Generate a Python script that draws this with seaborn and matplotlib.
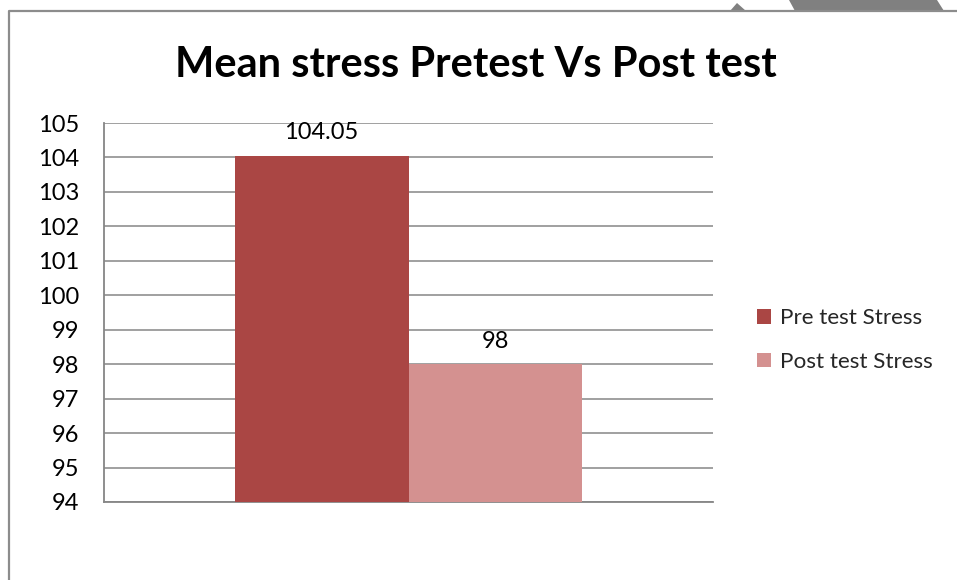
import matplotlib
matplotlib.use("Agg")
import matplotlib.pyplot as plt
import seaborn as sns
import pandas as pd
from matplotlib.lines import Line2D
from matplotlib.patches import Polygon, Patch

# ---- data ----
groups = [""]
series = ["Pre test Stress", "Post test Stress"]
values = [104.05, 98]
yticks = [94, 95, 96, 97, 98, 99, 100, 101, 102, 103, 104, 105]
title = "Mean stress Pretest Vs Post test"

colors = ["#AA4644", "#D49190"]
grid_c = "#868686"

sns.set_theme(style="white")
plt.rcParams["font.family"] = ["Lato", "DejaVu Sans"]

W, H = 957, 580
fig = plt.figure(figsize=(W / 100, H / 100), dpi=100)
fig.patch.set_facecolor("white")

def fx(px):
    return px / W

def fy(py):
    return 1 - py / H

ax = fig.add_axes([fx(104), fy(502), fx(713) - fx(104), fy(123) - fy(502)])

df = pd.DataFrame({"group": groups * len(series), "series": series, "value": values})
sns.barplot(data=df, x="group", y="value", hue="series", hue_order=series,
            palette=colors, width=0.571, ax=ax, legend=False, saturation=1,
            errorbar=None, zorder=3, linewidth=0, edgecolor="none")

ax.set_ylim(94, 105)
ax.set_xlim(-0.5, 0.5)
ax.set_yticks(yticks)
ax.set_yticklabels([str(t) for t in yticks], fontsize=17, color="black")
ax.set_xticks([])
ax.set_xlabel("")
ax.set_ylabel("")
ax.tick_params(axis="y", length=0, pad=18)
ax.yaxis.grid(True, color=grid_c, linewidth=1.1, zorder=0)
ax.set_axisbelow(True)
for s in ["top", "right"]:
    ax.spines[s].set_visible(False)
for s in ["left", "bottom"]:
    ax.spines[s].set_color(grid_c)
    ax.spines[s].set_linewidth(1.3)

for cont, v in zip(ax.containers, values):
    ax.bar_label(cont, labels=[f"{v:g}"], padding=9, fontsize=17, color="black")

# legend
handles = [Patch(facecolor=c, edgecolor="none") for c in colors]
fig.legend(handles, series, loc="center left", bbox_to_anchor=(fx(757), fy(340)),
           frameon=False, fontsize=16.2, handlelength=0.62, handleheight=0.62,
           handletextpad=0.4, labelspacing=1.05, borderpad=0, borderaxespad=0)

# title
fig.text(fx(476), fy(65), title, ha="center", va="center", fontsize=30,
         fontweight="bold", color="black")

# border and decoration
fig.add_artist(Line2D([fx(9), fx(9), fx(960)], [fy(585), fy(11), fy(11)],
                      transform=fig.transFigure, color="#8C8C8C", linewidth=1.6))
deco = "#808080"
fig.add_artist(Polygon([(fx(730), fy(11)), (fx(737), fy(3)), (fx(746), fy(11))],
                       closed=True, transform=fig.transFigure, facecolor=deco,
                       edgecolor="none"))
fig.add_artist(Polygon([(fx(789), fy(0)), (fx(937), fy(0)), (fx(944), fy(11)),
                        (fx(795), fy(11))], closed=True, transform=fig.transFigure,
                       facecolor=deco, edgecolor="none"))

fig.savefig("out.png", dpi=100, facecolor="white")
